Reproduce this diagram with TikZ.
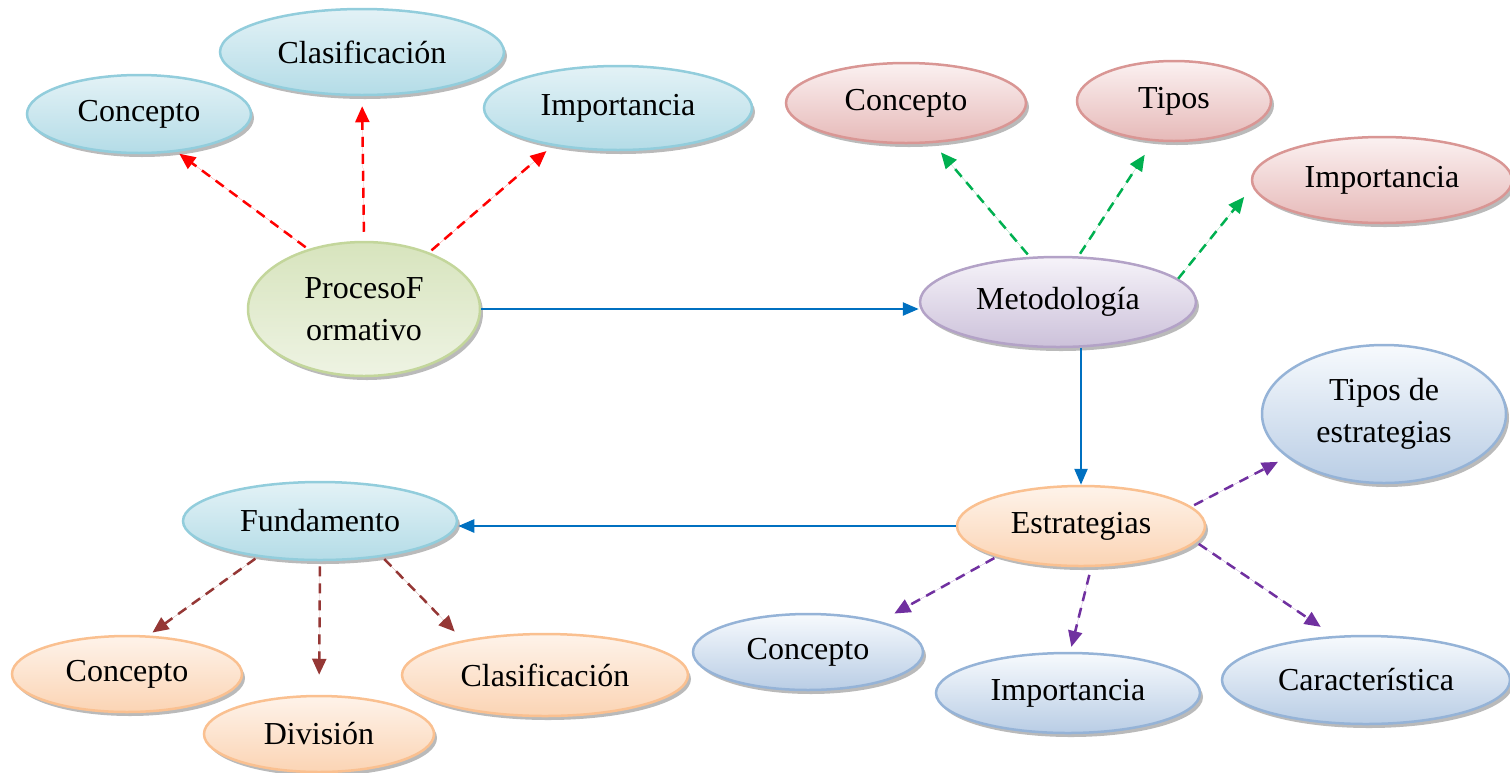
\documentclass[tikz,border=0pt]{standalone}
\usepackage{fontspec}
\setmainfont{Liberation Serif}
\usepackage{xcolor}
\usetikzlibrary{shapes.geometric,shadows,arrows.meta}

\definecolor{tealline}{HTML}{92CDDC}
\definecolor{tealtop}{HTML}{E3F2F6}
\definecolor{tealbot}{HTML}{B4DCE7}
\definecolor{greenline}{HTML}{C3D69B}
\definecolor{greentop}{HTML}{D7E4BD}
\definecolor{greenbot}{HTML}{EEF3E3}
\definecolor{roseline}{HTML}{D99694}
\definecolor{rosetop}{HTML}{FBF1F1}
\definecolor{rosebot}{HTML}{E6B9B8}
\definecolor{lilacline}{HTML}{B3A2C7}
\definecolor{lilactop}{HTML}{F6F3F9}
\definecolor{lilacbot}{HTML}{CCC1DA}
\definecolor{peachline}{HTML}{FAC090}
\definecolor{peachtop}{HTML}{FEF3EA}
\definecolor{peachbot}{HTML}{FBD4B4}
\definecolor{skyline}{HTML}{95B3D7}
\definecolor{skytop}{HTML}{F7FAFD}
\definecolor{skybot}{HTML}{B9CDE5}
\definecolor{flowblue}{HTML}{0070C0}
\definecolor{arrowgreen}{HTML}{00B050}
\definecolor{arrowpurple}{HTML}{7030A0}
\definecolor{arrowbrown}{HTML}{953735}

\begin{document}
\begin{tikzpicture}[x=1pt, y=-1pt,
    bubble/.style={ellipse, inner sep=0pt, line width=2.5pt, align=center,
        font=\fontsize{32}{42}\selectfont,
        drop shadow={shadow xshift=3pt, shadow yshift=-4pt, fill=black!45, opacity=.6}},
    tealbub/.style={bubble, draw=tealline, top color=tealtop, bottom color=tealbot},
    greenbub/.style={bubble, draw=greenline, top color=greentop, bottom color=greenbot},
    rosebub/.style={bubble, draw=roseline, top color=rosetop, bottom color=rosebot},
    lilacbub/.style={bubble, draw=lilacline, top color=lilactop, bottom color=lilacbot},
    peachbub/.style={bubble, draw=peachline, top color=peachtop, bottom color=peachbot},
    skybub/.style={bubble, draw=skyline, top color=skytop, bottom color=skybot},
    flow/.style={draw=flowblue, line width=2.5pt, -{Triangle[length=16pt, width=13pt]}},
    dashlink/.style={line width=2.5pt, dash pattern=on 10pt off 7pt,
        -{Triangle[length=16pt, width=14pt]}, shorten <=3pt, shorten >=3pt},
    redlink/.style={dashlink, draw=red, fill=red},
    greenlink/.style={dashlink, draw=arrowgreen, fill=arrowgreen},
    purplelink/.style={dashlink, draw=arrowpurple, fill=arrowpurple},
    brownlink/.style={dashlink, draw=arrowbrown, fill=arrowbrown}]
    \useasboundingbox (0,0) rectangle (1510,772);

    % proceso formativo
    \node[greenbub, minimum width=232pt, minimum height=134pt] (pf) at (364,309) {ProcesoF\\ormativo};
    \node[tealbub, minimum width=224pt, minimum height=78pt] (pfcon) at (139,114) {Concepto};
    \node[tealbub, minimum width=284pt, minimum height=86pt] (pfcla) at (362,52) {Clasificación};
    \node[tealbub, minimum width=268pt, minimum height=84pt] (pfimp) at (618,108) {Importancia};

    \draw[redlink] (pf.133) -- (pfcon.-45);
    \draw[redlink, shorten <=9pt, shorten >=10pt] (pf.90) -- (pfcla.-90);
    \draw[redlink, shorten >=8pt] (pf.41) -- (pfimp.-150);

    % metodologia
    \node[lilacbub, minimum width=276pt, minimum height=90pt] (met) at (1058,302) {Metodología};
    \node[rosebub, minimum width=240pt, minimum height=80pt] (metcon) at (906,103) {Concepto};
    \node[rosebub, minimum width=194pt, minimum height=80pt] (mettip) at (1174,101) {Tipos};
    \node[rosebub, minimum width=260pt, minimum height=86pt] (metimp) at (1382,180) {Importancia};

    \draw[flow] (pf.east) -- (pf.east -| met.west);
    \draw[greenlink, shorten >=12pt] (met.122) -- (metcon.-56);
    \draw[greenlink, shorten >=16pt] (met.66) -- (mettip.-117);
    \draw[greenlink, shorten <=0pt, shorten >=13pt] (met.11) -- (metimp.183);

    % estrategias
    \node[peachbub, minimum width=248pt, minimum height=80pt] (est) at (1081,526) {Estrategias};
    \node[skybub, minimum width=244pt, minimum height=138pt] (esttip) at (1384,414) {Tipos de\\estrategias};
    \node[skybub, minimum width=230pt, minimum height=76pt] (estcon) at (808,652) {Concepto};
    \node[skybub, minimum width=264pt, minimum height=80pt] (estimp) at (1068,693) {Importancia};
    \node[skybub, minimum width=288pt, minimum height=88pt] (estcar) at (1366,680) {Característica};

    \draw[flow] (met.south -| est.north) -- (est.north);
    \draw[purplelink, shorten >=10pt] (est.10) -- (esttip.-156);
    \draw[purplelink, shorten >=16pt] (est.-160) -- (estcon.23);
    \draw[purplelink, shorten <=8pt, shorten >=5pt] (est.-76) -- (estimp.87);
    \draw[purplelink, shorten >=16pt] (est.-8) -- (estcar.126);

    % fundamento
    \node[tealbub, minimum width=274pt, minimum height=78pt] (fun) at (320,521) {Fundamento};
    \node[peachbub, minimum width=230pt, minimum height=76pt] (funcon) at (127,674) {Concepto};
    \node[peachbub, minimum width=230pt, minimum height=76pt] (fundiv) at (319,734) {División};
    \node[peachbub, minimum width=286pt, minimum height=82pt] (funcla) at (545,675) {Clasificación};

    \draw[flow] (est.west) -- (est.west -| fun.east);
    \draw[brownlink, shorten >=5pt] (fun.-150) -- (funcon.61);
    \draw[brownlink, shorten <=5pt, shorten >=20pt] (fun.-90) -- (fundiv.90);
    \draw[brownlink, shorten >=12pt] (fun.-30) -- (funcla.157);
\end{tikzpicture}
\end{document}
